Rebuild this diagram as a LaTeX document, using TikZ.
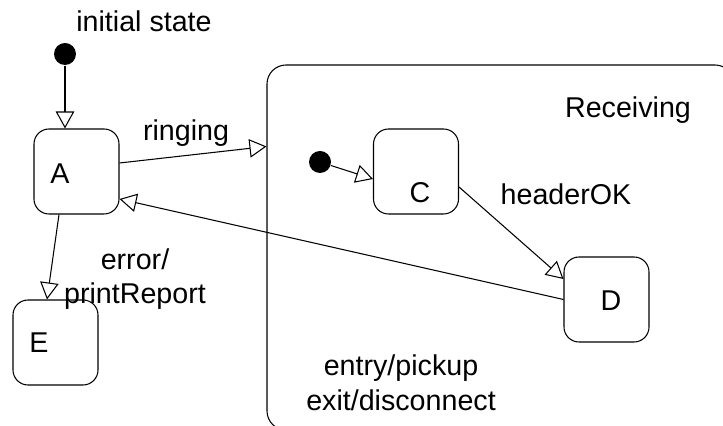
\documentclass[tikz,border=0pt]{standalone}
\usepackage{fontspec}
\setmainfont{Liberation Sans}
\usetikzlibrary{arrows.meta, positioning}
\tikzset{
  state/.style={draw, rounded corners=0.3cm, minimum width=1.7cm, minimum height=1.7cm, inner sep=0pt},
  startdot/.style={circle, fill=black, minimum size=0.44cm, inner sep=0pt},
  trans/.style={-{Triangle[open, length=0.34cm, width=0.37cm]}},
}

\begin{document}
\begin{tikzpicture}[line width=0.6pt, font=\fontsize{16.3}{19.8}\selectfont]
    \clip (0,0) rectangle (14.46,8.52);
    % composite state
    \node[draw, rounded corners=0.38cm, minimum width=9.34cm, minimum height=7.3cm, inner sep=0pt] (recv) at (10.01,3.57) {};
    \node (recvname) at (12.56,6.32) {Receiving};
    \node[align=center] (recvact) at (8.02,0.86) {entry/pickup\\exit/disconnect};
    % outer states
    \node[startdot] (init) at (1.30,7.44) {};
    \node (initname) at (2.88,8.09) {initial state};
    \node[state, label={[xshift=-0.33cm, yshift=-0.05cm]center:A}] (A) at (1.53,5.09) {};
    \node[state, label={[xshift=-0.33cm]center:E}] (E) at (1.11,1.67) {};
    % inner states
    \node[startdot] (init2) at (6.40,5.28) {};
    \node[state, label={[xshift=0.08cm, yshift=-0.43cm]center:C}] (C) at (8.32,5.09) {};
    \node[state, label={[xshift=0.09cm, yshift=-0.03cm]center:D}] (D) at (12.13,2.53) {};
    % transitions
    \draw[trans] (init) -- (init |- A.north);
    \draw[trans] ([yshift=0.17cm]A.east) -- ([yshift=-1.64cm]recv.north west);
    \draw[trans] (D.west) -- ([yshift=-0.55cm]A.east);
    \draw[trans] ([xshift=-0.35cm]A.south) -- ([xshift=-0.17cm]E.north);
    \draw[trans] (init2) -- ([yshift=-0.15cm]C.west);
    \draw[trans] ([yshift=-0.31cm]C.east) -- ([yshift=0.41cm]D.west);
    \node (ringing) at (3.72,5.86) {ringing};
    \node (headerok) at (11.32,4.64) {headerOK};
    \node[align=center] (errlbl) at (2.70,2.94) {error/\\printReport};
  \end{tikzpicture}
\end{document}
